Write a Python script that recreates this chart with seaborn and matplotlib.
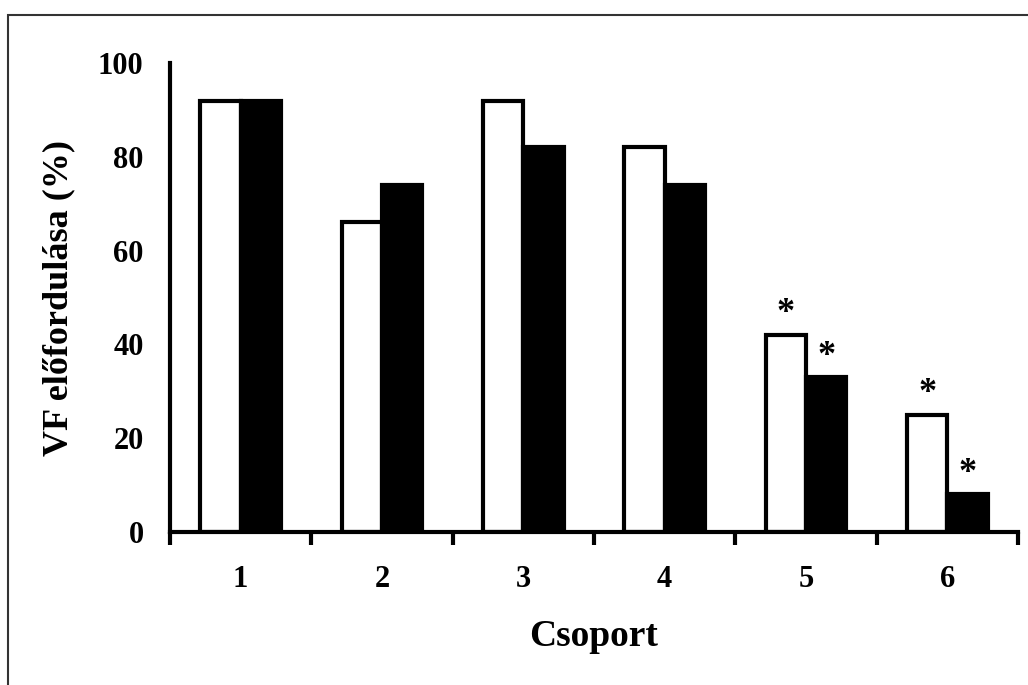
import numpy as np
import pandas as pd
import matplotlib
matplotlib.use('Agg')
import matplotlib.pyplot as plt
import matplotlib.patches as patches
import seaborn as sns

# data
groups = ['1', '2', '3', '4', '5', '6']
series_names = ['white', 'black']
values_white = [92, 66, 92, 82, 42, 25]
values_black = [92, 74, 82, 74, 33, 8]
stars_white = [False, False, False, False, True, True]
stars_black = [False, False, False, False, True, True]

sns.set_theme(style='white')
plt.rcParams['font.family'] = ['Liberation Serif', 'DejaVu Serif']
plt.rcParams['font.weight'] = 'bold'
plt.rcParams['text.color'] = 'black'
plt.rcParams['axes.labelcolor'] = 'black'
plt.rcParams['xtick.color'] = 'black'
plt.rcParams['ytick.color'] = 'black'

df = pd.DataFrame({
    'Csoport': groups * 2,
    'value': values_white + values_black,
    'series': [series_names[0]] * len(groups) + [series_names[1]] * len(groups),
})

fig = plt.figure(figsize=(10.28, 6.85), dpi=100)
ax = fig.add_axes([170 / 1028, 1 - 532 / 685, 848 / 1028, 469 / 685])

sns.barplot(data=df, x='Csoport', y='value', hue='series', order=groups,
            hue_order=series_names, palette=['white', 'black'], saturation=1,
            width=0.57, edgecolor='black', linewidth=3, legend=False, ax=ax)

# asterisks above the significant bars
n = len(groups)
for i, cont in enumerate(ax.containers):
    flags = stars_white if i == 0 else stars_black
    for bar, flag in zip(cont, flags):
        if flag:
            ax.text(bar.get_x() + bar.get_width() / 2, bar.get_height() + 4.5, '*',
                    ha='center', va='center', fontsize=26, fontweight='bold', color='black')

ax.set_xlim(-0.5, n - 0.5)
ax.set_ylim(0, 100)
ax.set_yticks(range(0, 101, 20))
ax.set_xticks(np.arange(-0.5, n, 1))
ax.set_xticklabels([])
ax.set_xticks(range(n), minor=True)
ax.set_xticklabels(groups, minor=True)

sns.despine(ax=ax)
for s in ['left', 'bottom']:
    ax.spines[s].set_linewidth(3)
    ax.spines[s].set_color('black')

ax.tick_params(axis='both', which='major', direction='out', length=9, width=3, color='black')
ax.tick_params(axis='y', labelsize=22, pad=10)
ax.tick_params(axis='x', which='minor', length=0, labelsize=22, pad=24)
ax.tick_params(axis='x', which='major', bottom=True)
for lab in ax.get_yticklabels() + ax.get_xticklabels(minor=True):
    lab.set_fontweight('bold')

ax.set_xlabel('Csoport', fontsize=27, fontweight='bold')
ax.set_ylabel('VF előfordulása (%)', fontsize=26, fontweight='bold')
ax.xaxis.set_label_coords(0.5, -0.185)
ax.yaxis.set_label_coords(-0.112, 0.5)

# outer frame (only top and left visible in the reference)
frame = patches.Rectangle((8 / 1028, -0.2), 1.2, 0.978 + 0.2, transform=fig.transFigure,
                          fill=False, edgecolor='#333333', linewidth=1.5, clip_on=False)
fig.patches.append(frame)

fig.savefig('out.png', dpi=100)
